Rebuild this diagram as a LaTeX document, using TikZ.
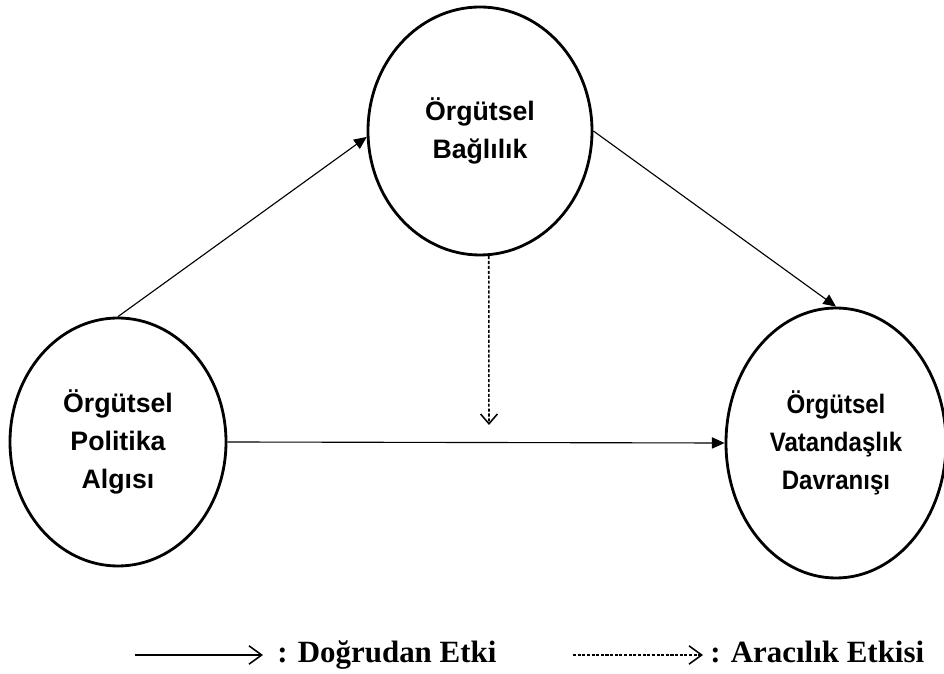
\documentclass[tikz,border=0pt]{standalone}
\usepackage{fontspec}
\setmainfont{Liberation Serif}
\newfontfamily\boxfont{Liberation Sans}
\newfontfamily\narrowfont{Liberation Sans}[FakeStretch=0.9]
\usetikzlibrary{arrows.meta}
\usetikzlibrary{shapes.geometric}
\usetikzlibrary{positioning}

\tikzset{
    factor/.style={draw, ellipse, line width=2pt, inner sep=0pt, align=center,
        font=\boxfont\bfseries\fontsize{19}{27}\selectfont},
    effect/.style={line width=0.8pt, -{Triangle[length=9pt,width=8pt]}},
    mediate/.style={line width=1.1pt, dash pattern=on 2.2pt off 1.3pt,
        -{Straight Barb[length=7pt,width=12pt]}},
    keyline/.style={line width=1.1pt, -{Straight Barb[length=9pt,width=13pt]}},
    keytext/.style={font=\bfseries\fontsize{22}{26}\selectfont, inner sep=0pt, anchor=base west}
}

\begin{document}
\begin{tikzpicture}
    \useasboundingbox (0,0) rectangle (23.6,16.85);

    % draw nodes
    \node[factor, minimum width=5.4cm, minimum height=6.2cm] (algi) at (2.95,5.8)
        {Örgütsel\\Politika\\Algısı};
    \node[factor, minimum width=5.6cm, minimum height=6.2cm] (bag) at (12.0,13.575)
        {Örgütsel\\Bağlılık};
    \node[factor, minimum width=5.5cm, minimum height=6.75cm,
        font=\narrowfont\bfseries\fontsize{19}{27}\selectfont] (vat) at (20.9,5.775)
        {Örgütsel\\Vatandaşlık\\Davranışı};

    % draw arrows
    \draw[effect] (algi.north) -- (bag.183);
    \draw[effect] (bag.east) -- (vat.north);
    \draw[effect] (algi.east) -- (vat.west);

    \coordinate (mid) at (12.225,6.225);
    \draw[mediate] (bag.-86) -- (mid);

    % draw legend
    \coordinate (ls1) at (3.375,0.475);
    \coordinate (le1) at (6.575,0.475);
    \coordinate (ls2) at (14.325,0.475);
    \coordinate (le2) at (17.575,0.475);
    \draw[keyline] (ls1) -- (le1);
    \draw[keyline, dash pattern=on 2.2pt off 1.1pt] (ls2) -- (le2);
    \node[keytext] (direct) at (6.925,0.275) {: Doğrudan Etki};
    \node[keytext] (indirect) at (17.75,0.275) {: Aracılık Etkisi};
\end{tikzpicture}
\end{document}
